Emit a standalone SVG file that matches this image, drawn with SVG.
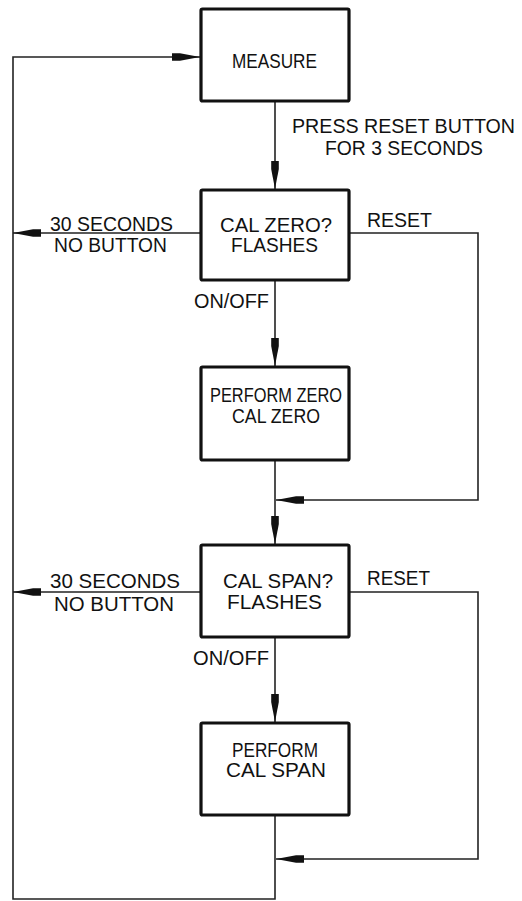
<svg xmlns="http://www.w3.org/2000/svg" width="522" height="901" viewBox="0 0 522 901">
<style>
.box{fill:#fff;stroke:#111;stroke-width:3.2}
.ln{fill:none;stroke:#222;stroke-width:1.6}
text{font-family:"Liberation Sans","DejaVu Sans",sans-serif;font-size:20px;fill:#111}
</style>
<defs>
<marker id="ah" markerUnits="userSpaceOnUse" markerWidth="30" markerHeight="10" refX="28" refY="5" orient="auto">
<path d="M0,1.2 L8,1.2 L28,5 L8,8.8 L0,8.8 Z" fill="#111"/>
</marker>
</defs>
<rect width="522" height="901" fill="#fff"/>
<g id="connectors">
<path class="ln" d="M275,815 V899 H13 V57 H200" marker-end="url(#ah)"/>
<path class="ln" d="M275,101 V189" marker-end="url(#ah)"/>
<path class="ln" d="M201,233 H13" marker-end="url(#ah)"/>
<path class="ln" d="M349,233 H478 V500 H276" marker-end="url(#ah)"/>
<path class="ln" d="M275,280 V366" marker-end="url(#ah)"/>
<path class="ln" d="M275,460 V544" marker-end="url(#ah)"/>
<path class="ln" d="M201,592 H13" marker-end="url(#ah)"/>
<path class="ln" d="M349,592 H478 V859 H276" marker-end="url(#ah)"/>
<path class="ln" d="M275,637 V722" marker-end="url(#ah)"/>
<text x="292" y="133" textLength="223" lengthAdjust="spacingAndGlyphs">PRESS RESET BUTTON</text>
<text x="325" y="155" textLength="158" lengthAdjust="spacingAndGlyphs">FOR 3 SECONDS</text>
<text x="50" y="231" textLength="123" lengthAdjust="spacingAndGlyphs">30 SECONDS</text>
<text x="54" y="252" textLength="113" lengthAdjust="spacingAndGlyphs">NO BUTTON</text>
<text x="367" y="227" textLength="65" lengthAdjust="spacingAndGlyphs">RESET</text>
<text x="194" y="308" textLength="75" lengthAdjust="spacingAndGlyphs">ON/OFF</text>
<text x="50" y="588" textLength="130" lengthAdjust="spacingAndGlyphs">30 SECONDS</text>
<text x="54" y="611" textLength="120" lengthAdjust="spacingAndGlyphs">NO BUTTON</text>
<text x="367" y="585" textLength="63" lengthAdjust="spacingAndGlyphs">RESET</text>
<text x="193" y="665" textLength="76" lengthAdjust="spacingAndGlyphs">ON/OFF</text>
</g>
<g id="measure">
<rect class="box" x="201" y="9" width="148" height="92" rx="1.5"/>
<text x="232" y="68" textLength="85" lengthAdjust="spacingAndGlyphs">MEASURE</text>
</g>
<g id="cal-zero">
<rect class="box" x="201" y="190" width="148" height="90" rx="1.5"/>
<text x="220" y="232" textLength="112" lengthAdjust="spacingAndGlyphs">CAL ZERO?</text>
<text x="231" y="252" textLength="87" lengthAdjust="spacingAndGlyphs">FLASHES</text>
</g>
<g id="perform-zero">
<rect class="box" x="201" y="367" width="148" height="93" rx="1.5"/>
<text x="210" y="402" textLength="132" lengthAdjust="spacingAndGlyphs">PERFORM ZERO</text>
<text x="232" y="423" textLength="88" lengthAdjust="spacingAndGlyphs">CAL ZERO</text>
</g>
<g id="cal-span">
<rect class="box" x="201" y="545" width="148" height="92" rx="1.5"/>
<text x="223" y="588" textLength="110" lengthAdjust="spacingAndGlyphs">CAL SPAN?</text>
<text x="227" y="609" textLength="95" lengthAdjust="spacingAndGlyphs">FLASHES</text>
</g>
<g id="perform-span">
<rect class="box" x="201" y="723" width="148" height="92" rx="1.5"/>
<text x="232" y="757" textLength="86" lengthAdjust="spacingAndGlyphs">PERFORM</text>
<text x="226" y="777" textLength="100" lengthAdjust="spacingAndGlyphs">CAL SPAN</text>
</g>
</svg>
